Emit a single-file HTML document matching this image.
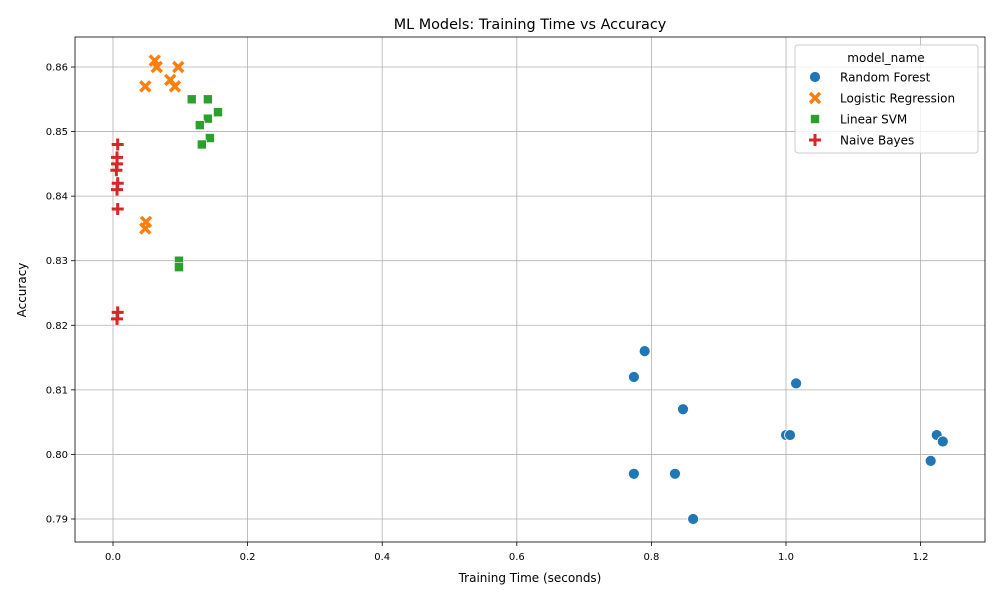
<!DOCTYPE html>
<html><head><meta charset="utf-8"><style>
body{margin:0;background:#fff;font-family:"DejaVu Sans","Liberation Sans",sans-serif}
svg text{font-family:"DejaVu Sans","Liberation Sans",sans-serif}
</style></head><body>
<svg id="chart" width="1000" height="600" xmlns="http://www.w3.org/2000/svg">
<text x="530" y="29" font-size="14.4" text-anchor="middle">ML Models: Training Time vs Accuracy</text>
<g id="grid"></g>
<g id="marks"></g>
<rect x="75" y="37" width="910" height="505" fill="none" stroke="#000" stroke-width="0.8"/>
<g id="ticks"></g>
<text x="530" y="582" font-size="12" text-anchor="middle">Training Time (seconds)</text>
<text x="0" y="0" font-size="12" text-anchor="middle" transform="translate(26,290) rotate(-90)">Accuracy</text>
<g id="legend"></g>
</svg>
<script>
const xTicks=[0.0,0.2,0.4,0.6,0.8,1.0,1.2];
const xTickLabels=["0.0","0.2","0.4","0.6","0.8","1.0","1.2"];
const yTicks=[0.79,0.80,0.81,0.82,0.83,0.84,0.85,0.86];
const yTickLabels=["0.79","0.80","0.81","0.82","0.83","0.84","0.85","0.86"];
const seriesNames=["Random Forest","Logistic Regression","Linear SVM","Naive Bayes"];
const rfTime=[0.790,0.774,1.015,0.847,1.000,1.006,1.224,1.233,1.215,0.774,0.835,0.862];
const rfAcc=[0.816,0.812,0.811,0.807,0.803,0.803,0.803,0.802,0.799,0.797,0.797,0.790];
const lrTime=[0.062,0.065,0.097,0.048,0.085,0.092,0.049,0.048];
const lrAcc=[0.861,0.860,0.860,0.857,0.858,0.857,0.836,0.835];
const svmTime=[0.117,0.141,0.156,0.141,0.129,0.144,0.132,0.098,0.098];
const svmAcc=[0.855,0.855,0.853,0.852,0.851,0.849,0.848,0.830,0.829];
const nbTime=[0.007,0.006,0.006,0.005,0.007,0.006,0.007,0.007,0.006];
const nbAcc=[0.848,0.846,0.845,0.844,0.842,0.841,0.838,0.822,0.821];

const NS="http://www.w3.org/2000/svg";
const X=v=>113+v*673;
const Y=v=>67+(0.86-v)*6457;
function mk(tag,attrs,parent){const e=document.createElementNS(NS,tag);for(const k in attrs)e.setAttribute(k,attrs[k]);parent.appendChild(e);return e;}
const grid=document.getElementById('grid'),ticks=document.getElementById('ticks'),marks=document.getElementById('marks'),legend=document.getElementById('legend');
xTicks.forEach((t,i)=>{const x=X(t);
 const g=mk('line',{x1:x,x2:x,y1:37,y2:542,stroke:'#b0b0b0','stroke-width':0.8},grid);
 
 mk('line',{x1:x,x2:x,y1:542,y2:546,stroke:'#000','stroke-width':0.8},ticks);
 const l=mk('text',{x:x,y:560,'font-size':10,'text-anchor':'middle'},ticks);l.textContent=xTickLabels[i];
 });
yTicks.forEach((t,i)=>{const y=Y(t);
 const g=mk('line',{x1:75,x2:985,y1:y,y2:y,stroke:'#b0b0b0','stroke-width':0.8},grid);
 
 mk('line',{x1:71,x2:75,y1:y,y2:y,stroke:'#000','stroke-width':0.8},ticks);
 const l=mk('text',{x:68,y:y+3.5,'font-size':10,'text-anchor':'end'},ticks);l.textContent=yTickLabels[i];
 });
function marker(kind,x,y,p){
 let e;
 if(kind==0){e=mk('circle',{cx:x,cy:y,r:5.5,fill:'#1f77b4',stroke:'#fff','stroke-width':0.8},p);}
 else if(kind==1){e=mk('path',{d:`M${x-5} ${y-5}L${x+5} ${y+5}M${x-5} ${y+5}L${x+5} ${y-5}`,stroke:'#ff7f0e','stroke-width':3.4,fill:'none'},p);}
 else if(kind==2){e=mk('rect',{x:x-4.5,y:y-4.5,width:9,height:9,fill:'#2ca02c',stroke:'#fff','stroke-width':0.6},p);}
 else {e=mk('path',{d:`M${x-6} ${y}L${x+6} ${y}M${x} ${y-6}L${x} ${y+6}`,stroke:'#d62728','stroke-width':3,fill:'none'},p);}
 return e;}
const S=[[rfTime,rfAcc],[lrTime,lrAcc],[svmTime,svmAcc],[nbTime,nbAcc]];
const pn=['rf-point','lr-point','svm-point','nb-point'];
S.forEach((s,k)=>{s[0].forEach((t,i)=>{const e=marker(k,X(t),Y(s[1][i]),marks);
 
 });});
const box=mk('rect',{x:795,y:45,width:183,height:108,rx:3,fill:'#fff','fill-opacity':0.8,stroke:'#ccc'},legend);

const lt=mk('text',{x:886,y:62,'font-size':12,'text-anchor':'middle'},legend);lt.textContent='model_name';

seriesNames.forEach((n,k)=>{const y=77+k*21;
 const m=marker(k,815,y,legend);
 
 const t=mk('text',{x:840,y:y+4.5,'font-size':12},legend);t.textContent=n;
 });
</script>
</body></html>
